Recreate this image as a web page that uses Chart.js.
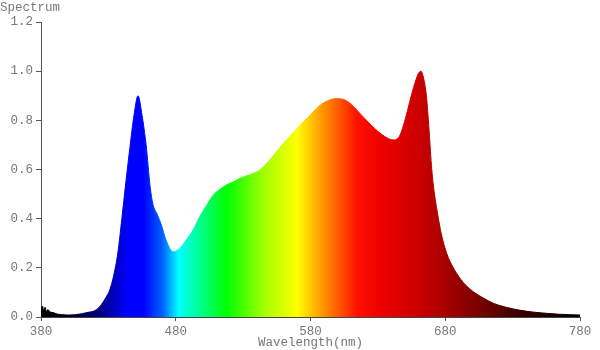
<!DOCTYPE html>
<html>
<head>
<meta charset="utf-8">
<script src="https://cdn.jsdelivr.net/npm/chart.js@4"></script>
<style>
  html,body{margin:0;padding:0;background:#fff;}
  #wrap{width:600px;height:350px;}
</style>
</head>
<body>
<div id="wrap"><canvas id="spec" width="600" height="350"></canvas></div>
<script>
// wavelengths (nm) and relative intensity
const wavelengths = [380,381,382,383,384,385,387,389,392,395,400,405,410,415,420,424,428,431,434,437,440,443,446,449,452,455,458,461,463,466,469,473,478,483,488,493,498,503,508,513,518,523,528,533,538,543,548,553,558,563,568,573,578,583,588,593,598,603,608,613,618,623,628,633,638,642,646,649,652,655,658,660,662,664,666,668,670,672,674,677,681,686,691,696,701,708,716,725,735,745,755,765,780];
const intensity = [0.03,0.045,0.028,0.04,0.022,0.03,0.02,0.018,0.012,0.01,0.008,0.009,0.013,0.019,0.026,0.045,0.078,0.11,0.17,0.26,0.40,0.55,0.69,0.82,0.90,0.82,0.70,0.53,0.46,0.42,0.38,0.31,0.265,0.28,0.315,0.355,0.41,0.455,0.497,0.52,0.538,0.55,0.565,0.575,0.585,0.60,0.628,0.66,0.695,0.725,0.755,0.785,0.812,0.84,0.865,0.88,0.888,0.887,0.875,0.85,0.82,0.792,0.765,0.742,0.725,0.72,0.735,0.78,0.84,0.905,0.96,0.99,1.0,0.97,0.90,0.76,0.60,0.50,0.43,0.34,0.26,0.20,0.157,0.125,0.102,0.078,0.055,0.04,0.028,0.02,0.015,0.011,0.008];
const xTicks = [380,480,580,680,780];
const yTicks = [0,0.2,0.4,0.6,0.8,1.0,1.2];

// colour of light along the x axis
const stopNm  = [380,400,425,445,456,470,482,500,518,545,570,590,615,632,660,700,740,780];
const stopCol = ['#000000','#000018','#00008c','#0000ff','#0000ff','#0060ff','#00ffff','#00ff80','#00ff00','#a0ff00','#ffff00','#ff9000','#ff1000','#ee0000','#cc0000','#820000','#300000','#000000'];

const grey='#777';
Chart.defaults.font.family="'Liberation Mono','Courier New',monospace";
Chart.defaults.font.size=12.5;
Chart.defaults.color=grey;

function rainbow(context){
  const chart=context.chart, area=chart.chartArea;
  if(!area) return null;
  const xs=chart.scales.x;
  const x0=xs.getPixelForValue(380), x1=xs.getPixelForValue(780);
  const g=chart.ctx.createLinearGradient(x0,0,x1,0);
  stopNm.forEach((nm,i)=>g.addColorStop((nm-380)/400,stopCol[i]));
  return g;
}

new Chart(document.getElementById('spec'),{
  type:'line',
  data:{datasets:[{
    data:wavelengths.map((w,i)=>({x:w,y:intensity[i]})),
    fill:'origin',
    backgroundColor:rainbow,
    borderColor:rainbow,
    borderWidth:1,
    pointRadius:0,
    cubicInterpolationMode:'monotone'
  }]},
  options:{
    responsive:false,
    animation:false,
    devicePixelRatio:1,
    layout:{padding:{left:0,right:20,top:0,bottom:0}},
    plugins:{
      legend:{display:false},
      tooltip:{enabled:false},
      title:{display:true,text:'Spectrum',align:'start',color:grey,
        font:{size:12.5,weight:'normal'},padding:{top:0,bottom:7}}
    },
    scales:{
      x:{
        type:'linear',min:380,max:780,
        afterFit:s=>{s.height=33;},
        afterBuildTicks:s=>{s.ticks=xTicks.map(v=>({value:v}));},
        ticks:{color:grey,padding:3,maxRotation:0},
        grid:{drawOnChartArea:false,tickLength:4,color:'#555'},
        border:{color:'#444',width:1},
        title:{display:true,text:'Wavelength(nm)',color:grey,padding:{top:0,bottom:0}}
      },
      y:{
        min:0,max:1.2,
        afterFit:s=>{s.width=41;},
        afterBuildTicks:s=>{s.ticks=yTicks.map(v=>({value:v}));},
        ticks:{color:grey,padding:3,callback:v=>v.toFixed(1)},
        grid:{drawOnChartArea:false,tickLength:5,color:'#555'},
        border:{color:'#555',width:1}
      }
    }
  }
});
</script>
</body>
</html>
